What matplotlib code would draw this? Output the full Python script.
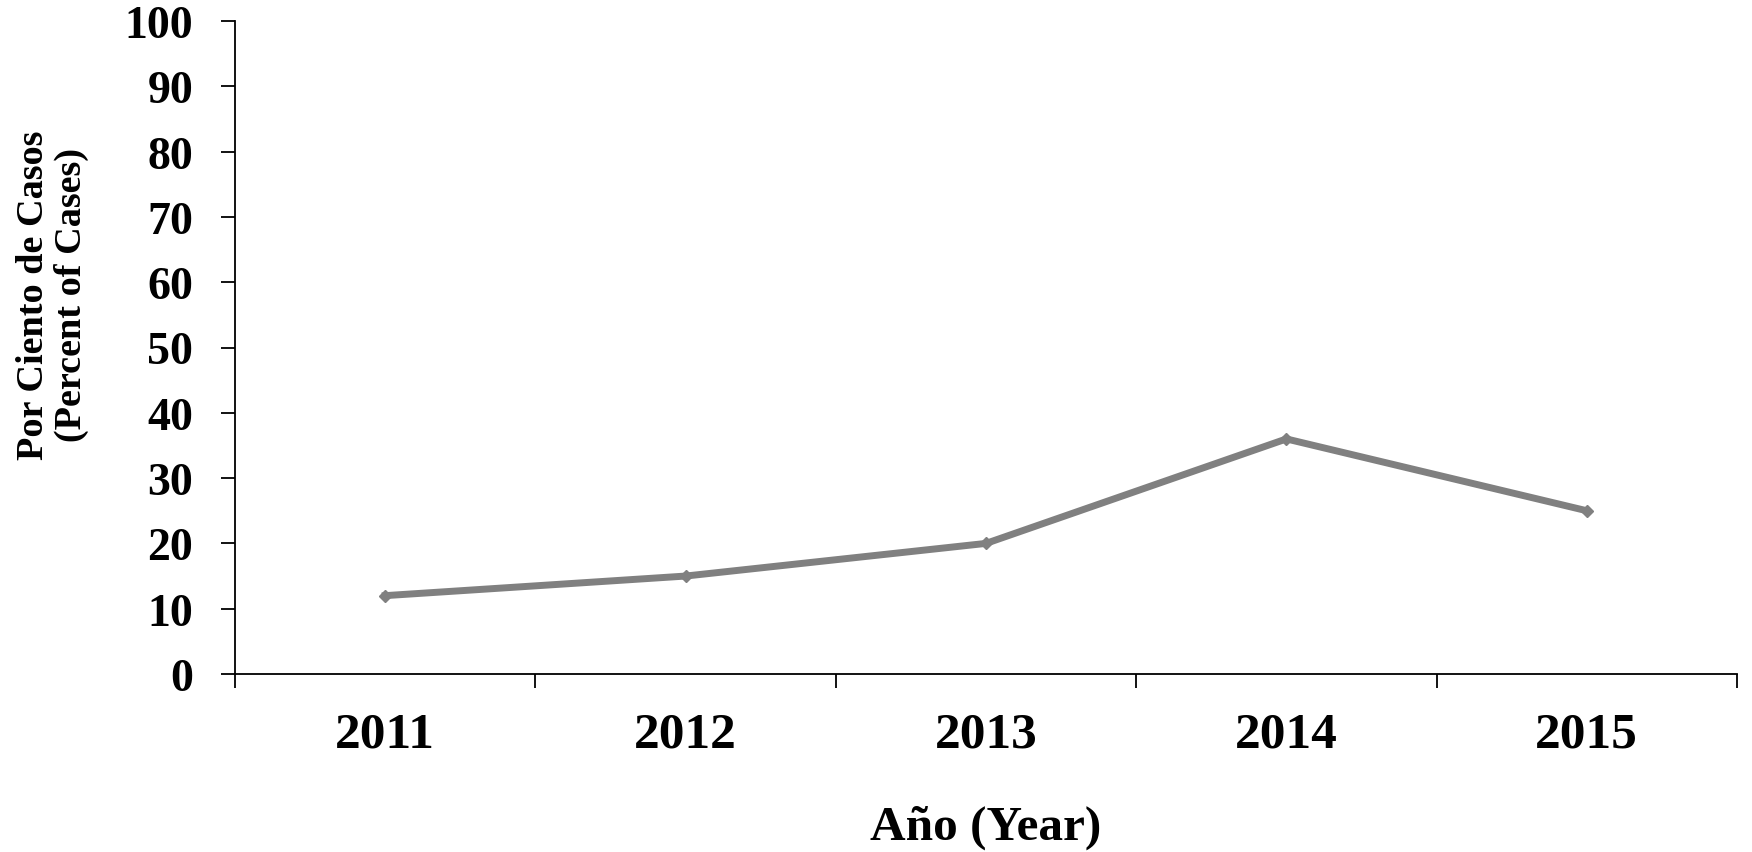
import matplotlib
matplotlib.use('Agg')
import matplotlib.pyplot as plt

years = ['2011', '2012', '2013', '2014', '2015']
percent = [12, 15, 20, 36, 25]
y_ticks = list(range(0, 101, 10))

plt.rcParams['font.family'] = ['Liberation Serif', 'DejaVu Serif']
plt.rcParams['font.weight'] = 'bold'

fig = plt.figure(figsize=(17.52, 8.53), dpi=100)
ax = fig.add_axes([235 / 1752, 1 - 675 / 853, 1502 / 1752, 653 / 853])

x = list(range(len(years)))
ax.plot(x, percent, color='#808080', linewidth=5, marker='D', markersize=6,
        markerfacecolor='#808080', markeredgecolor='#808080')

ax.set_xlim(-0.5, len(years) - 0.5)
ax.set_ylim(0, 100)
ax.set_yticks(y_ticks)
ax.set_yticklabels([str(v) for v in y_ticks], fontsize=33, fontweight='bold')

# category boundaries as major ticks, labels on minor ticks at centers
ax.set_xticks([i - 0.5 for i in range(len(years) + 1)])
ax.set_xticklabels([])
ax.set_xticks(x, minor=True)
ax.set_xticklabels(years, minor=True, fontsize=37, fontweight='bold')
ax.tick_params(axis='x', which='major', direction='out', length=10, width=1.3)
ax.tick_params(axis='x', which='minor', length=0, pad=27)
ax.tick_params(axis='y', direction='out', length=10, width=1.3, pad=20)

for side in ['top', 'right']:
    ax.spines[side].set_visible(False)
for side in ['left', 'bottom']:
    ax.spines[side].set_linewidth(1.3)

fig.text(0.030, 0.654, 'Por Ciento de Casos\n(Percent of Cases)', rotation=90,
         ha='center', va='center', multialignment='center',
         fontsize=27.5, fontweight='bold', linespacing=1.1)
fig.text(986 / 1752, 1 - 828 / 853, 'Año (Year)', ha='center', va='center',
         fontsize=35.5, fontweight='bold')

fig.savefig('out.png', dpi=100)
